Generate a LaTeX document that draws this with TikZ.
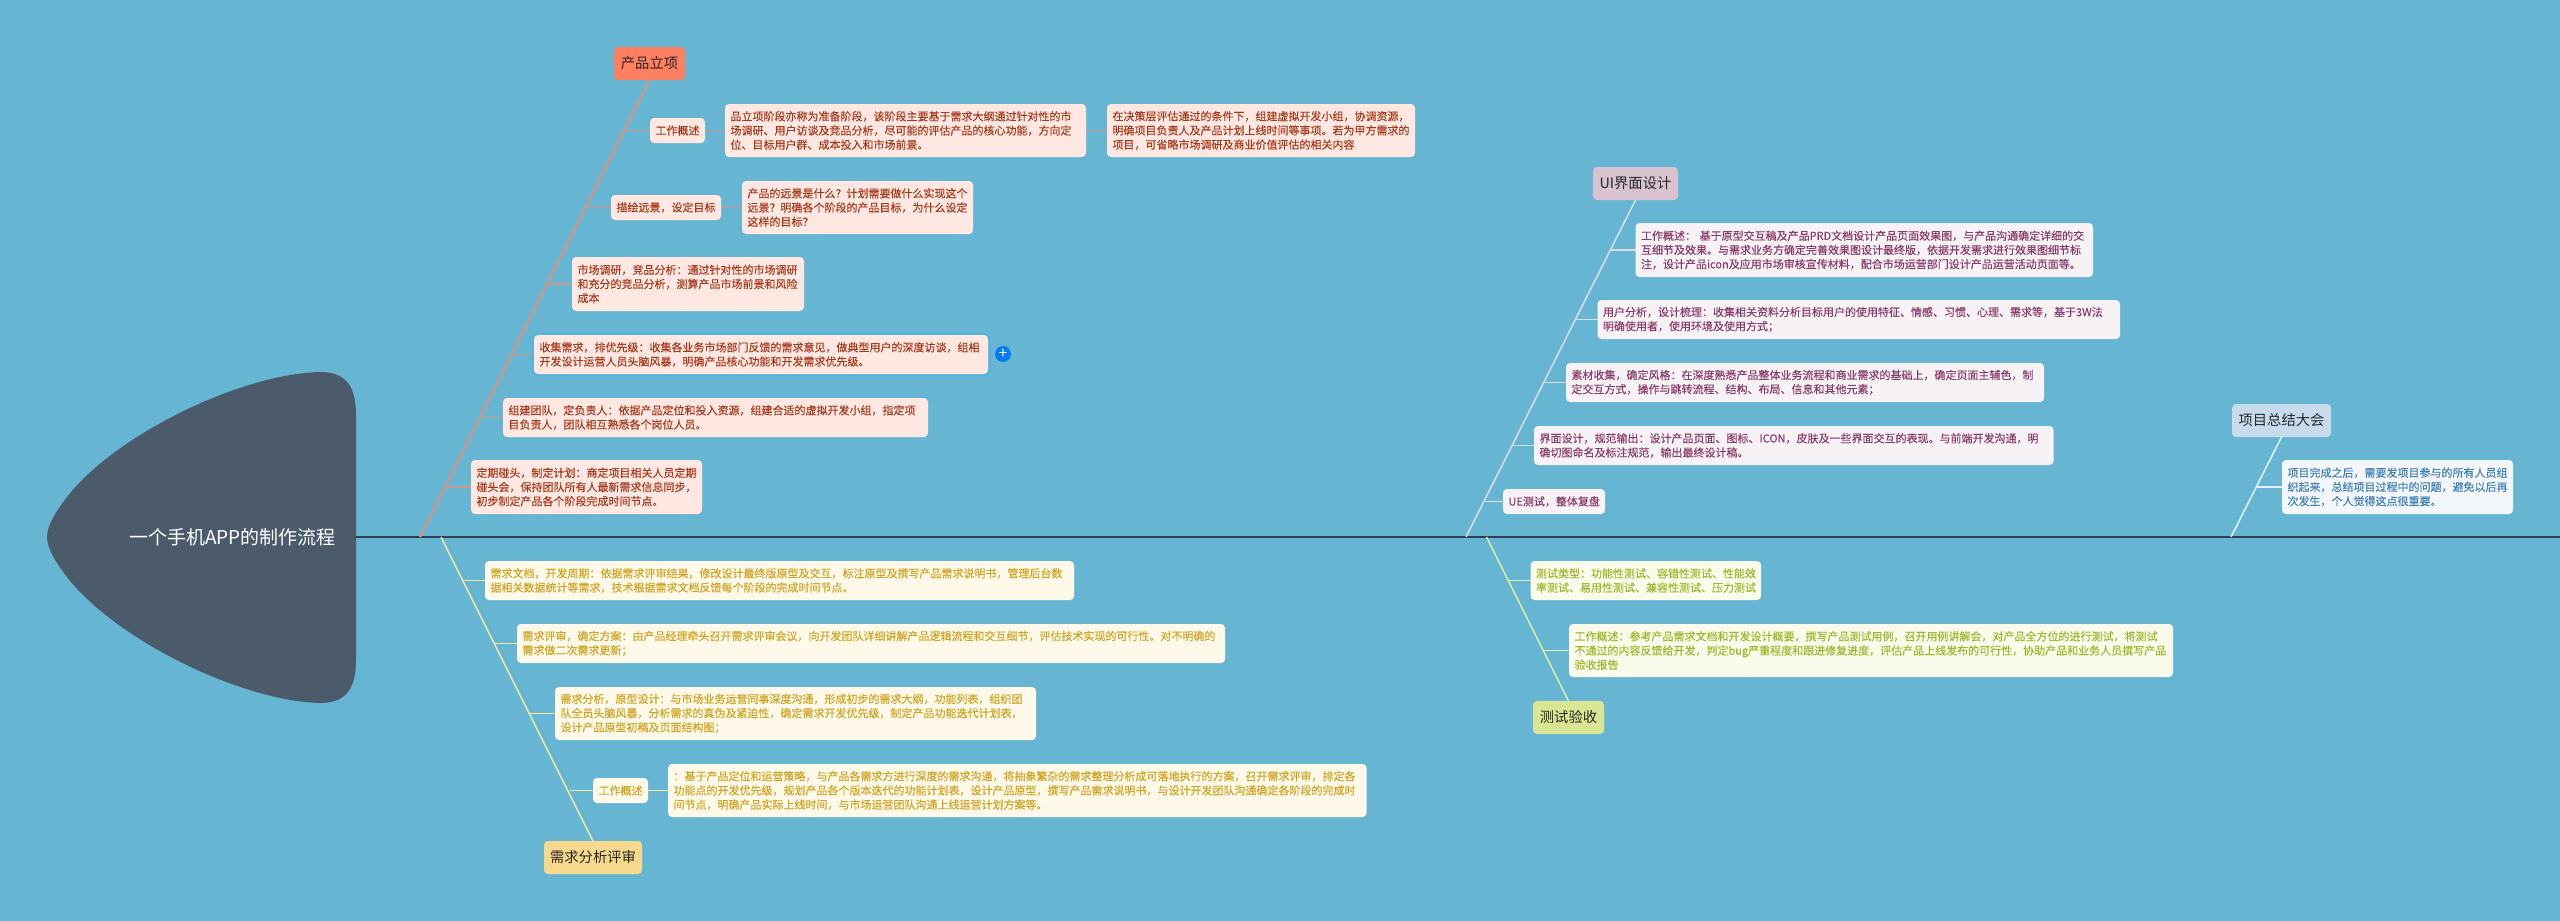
\documentclass[tikz,border=0pt]{standalone}
\usepackage{fontspec}
\setmainfont{Noto Sans CJK SC}
\newfontfamily\leaffont[FakeBold=0.2]{Noto Sans CJK SC}
\definecolor{bg}{HTML}{66B6D3}
\definecolor{headc}{HTML}{4C5B6B}
\definecolor{mainl}{HTML}{2A4254}
\definecolor{glow}{HTML}{4DB2E6}
\definecolor{plusc}{HTML}{0A7BEF}
\definecolor{rtopic}{HTML}{FF8060}\definecolor{rline}{HTML}{C9988C}\definecolor{rfill}{HTML}{FFE8E1}\definecolor{rtext}{HTML}{A63A1E}
\definecolor{ytopic}{HTML}{F6D98C}\definecolor{yline}{HTML}{F5E89E}\definecolor{yfill}{HTML}{FFF9E9}\definecolor{ytext}{HTML}{CFA526}
\definecolor{ptopic}{HTML}{D9C2D0}\definecolor{pline}{HTML}{DADDE2}\definecolor{pfill}{HTML}{F6F2F5}\definecolor{ptext}{HTML}{8A3C6A}
\definecolor{gtopic}{HTML}{DAE594}\definecolor{gline}{HTML}{DDF0AC}\definecolor{gfill}{HTML}{FBFBEC}\definecolor{gtext}{HTML}{9CB92E}
\definecolor{btopic}{HTML}{C8DBED}\definecolor{bline}{HTML}{E2F1F8}\definecolor{bfill}{HTML}{F3F7FB}\definecolor{btext}{HTML}{3F7FB5}
\tikzset{
  leafbox/.style={rounded corners=4pt,inner xsep=5.5pt,inner ysep=0pt,outer sep=0pt,align=left,font=\leaffont\fontsize{11}{14.2}\selectfont},
  topicbox/.style={rounded corners=4pt,inner sep=0pt,outer sep=0pt,align=center,font=\fontsize{14.3}{17}\selectfont,text=black!85},
  rleaf/.style={fill=rfill,text=rtext}, yleaf/.style={fill=yfill,text=ytext},
  pleaf/.style={fill=pfill,text=ptext}, gleaf/.style={fill=gfill,text=gtext},
  bleaf/.style={fill=bfill,text=btext},
  rspine/.style={draw=rline,line width=2.4pt}, rbranch/.style={draw=rline,line width=1.8pt},
  yspine/.style={draw=yline,line width=1.5pt}, pspine/.style={draw=pline,line width=1.5pt},
  gspine/.style={draw=gline,line width=1.5pt}, bspine/.style={draw=bline,line width=1.5pt},
}
\newcommand\leafnode[7]{%
  \pgfmathsetmacro\lfw{#4-#2-11}\pgfmathsetmacro\lfh{#5-#3}%
  \node[leafbox,#6,text width=\lfw pt,minimum height=\lfh pt] (#1) at ({(#2+#4)/2},{(#3+#5)/2}) {#7};}
\newcommand\topicnode[7]{%
  \pgfmathsetmacro\lfw{#4-#2}\pgfmathsetmacro\lfh{#5-#3}%
  \node[topicbox,fill=#6,minimum width=\lfw pt,minimum height=\lfh pt] (#1) at ({(#2+#4)/2},{(#3+#5)/2}) {#7};}
\begin{document}
\begin{tikzpicture}[x=1pt,y=-1pt]
\useasboundingbox (0,0) rectangle (2560,921);
\fill[bg] (0,0) rectangle (2560,921);
% head
\fill[headc] (47,537) .. controls (47,525) and (57,510) .. (67,497)
  .. controls (115,435) and (240,374) .. (320,372)
  .. controls (345,372) and (356,385) .. (356,415) -- (356,660)
  .. controls (356,690) and (345,703) .. (320,703)
  .. controls (240,701) and (115,639) .. (67,577)
  .. controls (57,564) and (47,549) .. (47,537) -- cycle;
\node[inner sep=0pt,text=white,font=\fontsize{19}{22}\selectfont] (head) at (232.5,537) {一个手机APP的制作流程};
\coordinate (headedge) at (356,537);
\coordinate (tailend) at (2560,537);
% topics
\topicnode{t1}{614}{47}{685}{80}{rtopic}{产品立项}
\topicnode{t2}{544}{841}{642}{874}{ytopic}{需求分析评审}
\topicnode{t3}{1593}{167}{1678}{200}{ptopic}{UI界面设计}
\topicnode{t4}{1533}{701}{1604}{734}{gtopic}{测试验收}
\topicnode{t5}{2232}{404}{2331}{437}{btopic}{项目总结大会}
% red leaves
\leafnode{r1}{650}{118}{705}{143}{rleaf}{工作概述}
\leafnode{r1a}{725}{104}{1086}{157}{rleaf}{品立项阶段亦称为准备阶段，该阶段主要基于需求大纲通过针对性的市\\场调研、用户访谈及竞品分析，尽可能的评估产品的核心功能，方向定\\位、目标用户群、成本投入和市场前景。}
\leafnode{r1b}{1107}{104}{1415}{157}{rleaf}{在决策层评估通过的条件下，组建虚拟开发小组，协调资源，\\明确项目负责人及产品计划上线时间等事项。若为甲方需求的\\项目，可省略市场调研及商业价值评估的相关内容}
\leafnode{r2}{611}{195}{721}{220}{rleaf}{描绘远景，设定目标}
\leafnode{r2a}{742}{181}{973}{234}{rleaf}{产品的远景是什么？计划需要做什么实现这个\\远景？明确各个阶段的产品目标，为什么设定\\这样的目标？}
\leafnode{r3}{572}{257}{804}{311}{rleaf}{市场调研，竞品分析：通过针对性的市场调研\\和充分的竞品分析，测算产品市场前景和风险\\成本}
\draw[draw=glow,line width=1.5pt,rounded corners=5pt] (532.5,333.5) rectangle (989.5,375.5);
\leafnode{r4}{534}{335}{988}{374}{rleaf}{收集需求，排优先级：收集各业务市场部门反馈的需求意见，做典型用户的深度访谈，组相\\开发设计运营人员头脑风暴，明确产品核心功能和开发需求优先级。}
\node[circle,fill=plusc,text=white,inner sep=0pt,minimum size=16pt,font=\fontsize{15}{15}\selectfont] (plus) at (1003,354) {+};
\leafnode{r5}{503}{398}{928}{437}{rleaf}{组建团队，定负责人：依据产品定位和投入资源，组建合适的虚拟开发小组，指定项\\目负责人，团队相互熟悉各个岗位人员。}
\leafnode{r6}{471}{460}{702}{514}{rleaf}{定期碰头，制定计划：商定项目相关人员定期\\碰头会，保持团队所有人最新需求信息同步，\\初步制定产品各个阶段完成时间节点。}
% yellow leaves
\leafnode{y1}{485}{561}{1074}{600}{yleaf}{需求文档，开发周期：依据需求评审结果，修改设计最终版原型及交互，标注原型及撰写产品需求说明书，管理后台数\\据相关数据统计等需求，技术根据需求文档反馈每个阶段的完成时间节点。}
\leafnode{y2}{517}{624}{1225}{663}{yleaf}{需求评审，确定方案：由产品经理牵头召开需求评审会议，向开发团队详细讲解产品逻辑流程和交互细节，评估技术实现的可行性。对不明确的\\需求做二次需求更新；}
\leafnode{y3}{555}{687}{1036}{740}{yleaf}{需求分析，原型设计：与市场业务运营同事深度沟通，形成初步的需求大纲，功能列表，组织团\\队全员头脑风暴，分析需求的真伪及紧迫性，确定需求开发优先级，制定产品功能迭代计划表，\\设计产品原型初稿及页面结构图；}
\leafnode{y4}{593}{778}{648}{803}{yleaf}{工作概述}
\leafnode{y4a}{668}{764}{1366.5}{817}{yleaf}{：基于产品定位和运营策略，与产品各需求方进行深度的需求沟通，将抽象繁杂的需求整理分析成可落地执行的方案，召开需求评审，排定各\\功能点的开发优先级，规划产品各个版本迭代的功能计划表，设计产品原型，撰写产品需求说明书，与设计开发团队沟通确定各阶段的完成时\\间节点，明确产品实际上线时间，与市场运营团队沟通上线运营计划方案等。}
% purple leaves
\leafnode{p1}{1635.5}{223}{2093}{277}{pleaf}{工作概述： 基于原型交互稿及产品PRD文档设计产品页面效果图，与产品沟通确定详细的交\\互细节及效果。与需求业务方确定完善效果图设计最终版，依据开发需求进行效果图细节标\\注，设计产品icon及应用市场审核宣传材料，配合市场运营部门设计产品运营活动页面等。}
\leafnode{p2}{1597.5}{300}{2120}{339}{pleaf}{用户分析，设计梳理：收集相关资料分析目标用户的使用特征、情感、习惯、心理、需求等，基于3W法\\明确使用者，使用环境及使用方式；}
\leafnode{p3}{1566}{363}{2044}{402}{pleaf}{素材收集，确定风格：在深度熟悉产品整体业务流程和商业需求的基础上，确定页面主辅色，制\\定交互方式，操作与跳转流程、结构、布局、信息和其他元素；}
\leafnode{p4}{1534}{426}{2053.5}{465}{pleaf}{界面设计，规范输出：设计产品页面、图标、ICON，皮肤及一些界面交互的表现。与前端开发沟通，明\\确切图命名及标注规范，输出最终设计稿。}
\leafnode{p5}{1503}{489}{1605}{514}{pleaf}{UE测试，整体复盘}
% green leaves
\leafnode{g1}{1530.5}{561}{1761}{600}{gleaf}{测试类型：功能性测试、容错性测试、性能效\\率测试、易用性测试、兼容性测试、压力测试}
\leafnode{g2}{1569}{624}{2173}{677}{gleaf}{工作概述：参考产品需求文档和开发设计概要，撰写产品测试用例，召开用例讲解会，对产品全方位的进行测试，将测试\\不通过的内容反馈给开发，判定bug严重程度和跟进修复进度，评估产品上线发布的可行性，协助产品和业务人员撰写产品\\验收报告}
% blue leaf
\leafnode{b1}{2282}{460}{2513}{514}{bleaf}{项目完成之后，需要发项目参与的所有人员组\\织起来，总结项目过程中的问题，避免以后再\\次发生，个人觉得这点很重要。}
% spine feet and junctions
\coordinate (m1) at (420,537); \coordinate (m2) at (441,537);
\coordinate (m3) at (1466,537); \coordinate (m4) at (1486.5,537); \coordinate (m5) at (2231,537);
\coordinate (jr1) at (625,130.5); \coordinate (jr2) at (587,207.5); \coordinate (jr3) at (547,284);
\coordinate (jr4) at (513,354.5); \coordinate (jr5) at (481,417.5); \coordinate (jr6) at (447,487);
\coordinate (jy1) at (463,580.5); \coordinate (jy2) at (495,643.5); \coordinate (jy3) at (529,713.5); \coordinate (jy4) at (569.5,790.5);
\coordinate (jp1) at (1611,250); \coordinate (jp2) at (1576,319.5); \coordinate (jp3) at (1545,382.5); \coordinate (jp4) at (1513,445.5); \coordinate (jp5) at (1485,501.5);
\coordinate (jg1) at (1509,580.5); \coordinate (jg2) at (1544,650.5);
\coordinate (jb1) at (2257,487);
% connectors
\draw[draw=mainl,line width=1.7pt] (headedge) -- (tailend);
\draw[rspine] (t1.south) -- (m1);
\draw[rbranch] (jr1) -- (r1.west); \draw[rbranch] (r1.east) -- (r1a.west); \draw[rbranch] (r1a.east) -- (r1b.west);
\draw[rbranch] (jr2) -- (r2.west); \draw[rbranch] (r2.east) -- (r2a.west);
\draw[rbranch] (jr3) -- (r3.west); \draw[rbranch] (jr4) -- (r4.west);
\draw[rbranch] (jr5) -- (r5.west); \draw[rbranch] (jr6) -- (r6.west);
\draw[yspine] (t2.north) -- (m2);
\draw[yspine] (jy1) -- (y1.west); \draw[yspine] (jy2) -- (y2.west); \draw[yspine] (jy3) -- (y3.west);
\draw[yspine] (jy4) -- (y4.west); \draw[yspine] (y4.east) -- (y4a.west);
\draw[pspine] (t3.south) -- (m3);
\draw[pspine] (jp1) -- (p1.west); \draw[pspine] (jp2) -- (p2.west); \draw[pspine] (jp3) -- (p3.west);
\draw[pspine] (jp4) -- (p4.west); \draw[pspine] (jp5) -- (p5.west);
\draw[gspine] (t4.north) -- (m4);
\draw[gspine] (jg1) -- (g1.west); \draw[gspine] (jg2) -- (g2.west);
\draw[bspine] (t5.south) -- (m5);
\draw[bspine] (jb1) -- (b1.west);
\end{tikzpicture}
\end{document}
